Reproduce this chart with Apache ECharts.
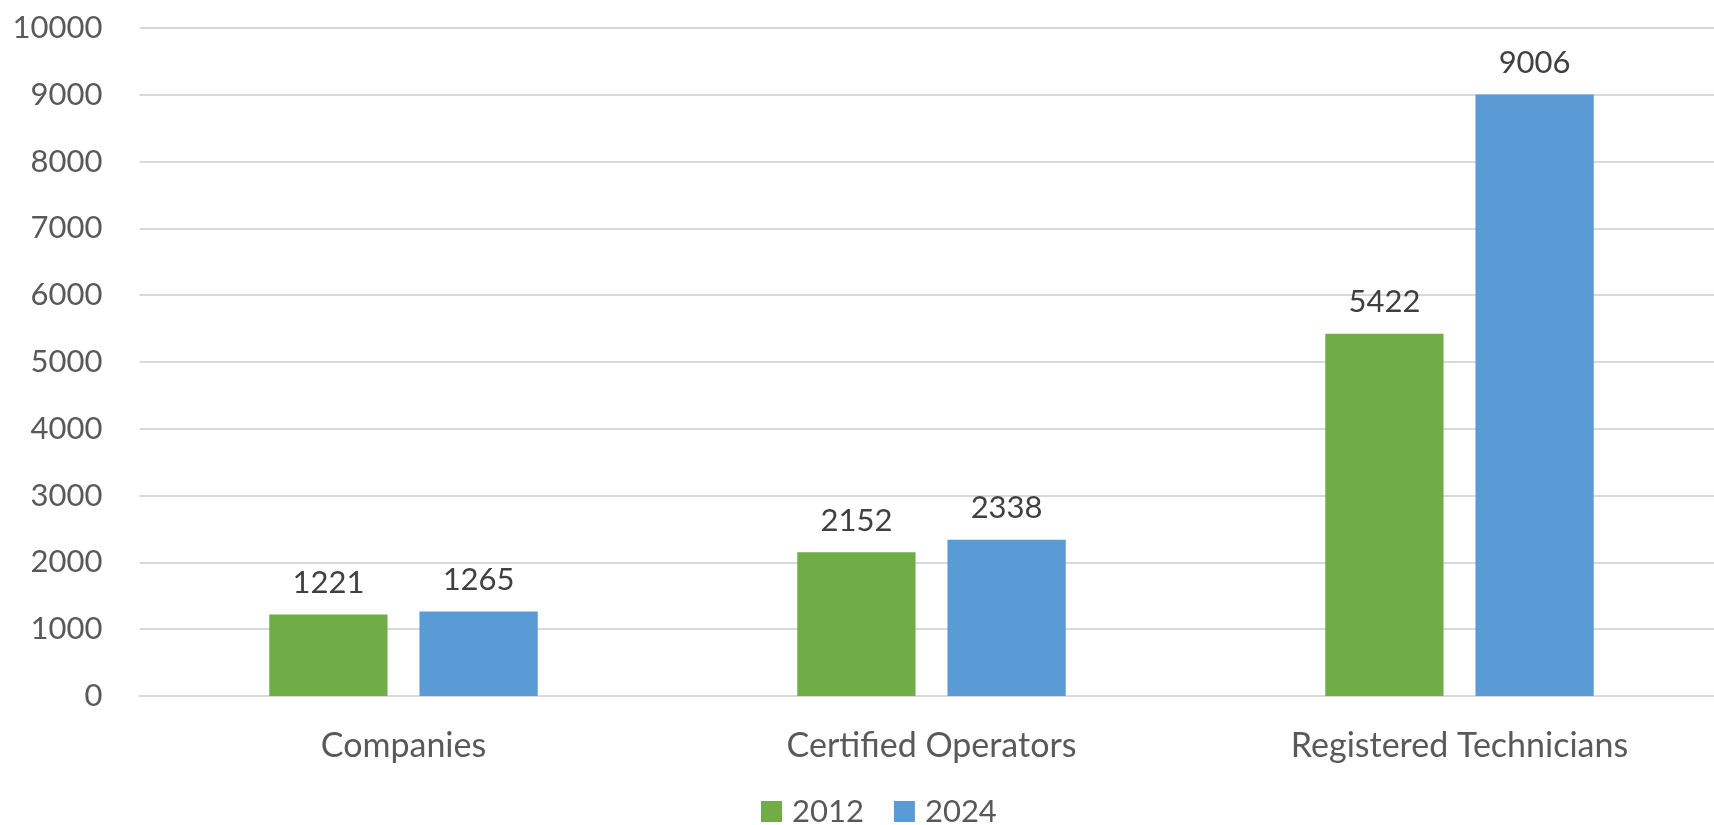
<!DOCTYPE html>
<html>
<head>
<meta charset="utf-8">
<script src="https://cdn.jsdelivr.net/npm/echarts@6/dist/echarts.min.js"></script>
<style>
html,body{margin:0;padding:0;background:#fff;overflow:hidden;}
#chart{width:1724px;height:825px;}
</style>
</head>
<body>
<div id="chart"></div>
<script>
const categories = ["Companies", "Certified Operators", "Registered Technicians"];
const seriesNames = ["2012", "2024"];
const values2012 = [1221, 2152, 5422];
const values2024 = [1265, 2338, 9006];
const yTicks = {min: 0, max: 10000, interval: 1000};

const FONT = "Lato";
const chart = echarts.init(document.getElementById('chart'), null, {renderer: 'canvas'});
const labelStyle = {
  show: true, position: 'top', distance: 16,
  color: '#404040', fontSize: 31, fontFamily: FONT
};
chart.setOption({
  animation: false,
  backgroundColor: '#ffffff',
  grid: {left: 139.5, right: 0.5, top: 28, bottom: 129, containLabel: false},
  legend: {
    data: seriesNames, top: 796, left: 761, padding: 0,
    itemWidth: 21, itemHeight: 21, itemGap: 30, icon: 'rect',
    textStyle: {color: '#595959', fontSize: 31, fontFamily: FONT, padding: [0, 0, 0, 5]}
  },
  xAxis: {
    type: 'category', data: categories,
    axisLine: {show: true, lineStyle: {color: '#d9d9d9', width: 2}},
    axisTick: {show: false},
    axisLabel: {color: '#595959', fontSize: 34, fontFamily: FONT, margin: 33}
  },
  yAxis: {
    type: 'value', min: yTicks.min, max: yTicks.max, interval: yTicks.interval,
    axisLine: {show: false}, axisTick: {show: false},
    splitLine: {lineStyle: {color: '#d9d9d9', width: 2}},
    axisLabel: {color: '#595959', fontSize: 31, fontFamily: FONT, margin: 37,
      formatter: function (v) { return String(v); }}
  },
  series: [
    {name: seriesNames[0], type: 'bar', data: values2012, barWidth: '22.4%', barGap: '27%',
     itemStyle: {color: '#70ad47'}, label: labelStyle},
    {name: seriesNames[1], type: 'bar', data: values2024, barWidth: '22.4%', barGap: '27%',
     itemStyle: {color: '#5b9bd5'}, label: labelStyle}
  ]
});
</script>
</body>
</html>
